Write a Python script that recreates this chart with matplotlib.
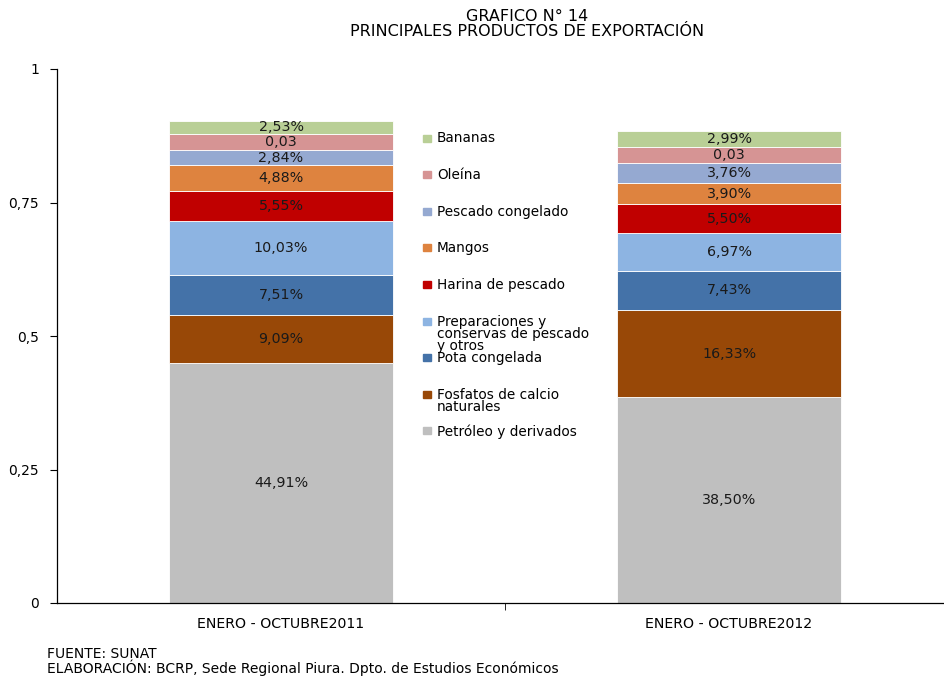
import matplotlib.pyplot as plt
from matplotlib.patches import Rectangle

plt.rcParams["font.family"] = ["DejaVu Sans"]

# ── Data ──────────────────────────────────────────────────────────────────────
periods = ["ENERO - OCTUBRE2011", "ENERO - OCTUBRE2012"]

products = [
    "Petróleo y derivados",
    "Fosfatos de calcio\nnaturales",
    "Pota congelada",
    "Preparaciones y\nconservas de pescado\ny otros",
    "Harina de pescado",
    "Mangos",
    "Pescado congelado",
    "Oleína",
    "Bananas",
]

share_2011 = [0.4491, 0.0909, 0.0751, 0.1003, 0.0555, 0.0488, 0.0284, 0.03, 0.0253]
share_2012 = [0.3850, 0.1633, 0.0743, 0.0697, 0.0550, 0.0390, 0.0376, 0.03, 0.0299]

labels_2011 = ["44,91%", "9,09%", "7,51%", "10,03%", "5,55%", "4,88%", "2,84%", "0,03", "2,53%"]
labels_2012 = ["38,50%", "16,33%", "7,43%", "6,97%", "5,50%", "3,90%", "3,76%", "0,03", "2,99%"]

colours = ["#BFBFBF", "#984807", "#4472A8", "#8DB4E2", "#C00000",
           "#DE833F", "#95A9D1", "#D69494", "#B9CF96"]

yticks = [0, 0.25, 0.5, 0.75, 1]
ytick_labels = ["0", "0,25", "0,5", "0,75", "1"]

# ── Figure ────────────────────────────────────────────────────────────────────
fig = plt.figure(figsize=(9.44, 6.77), dpi=100)
ax = fig.add_axes([57 / 944, 1 - 603 / 677, 896 / 944, (603 - 69) / 677])

series = [share_2011, share_2012]
texts = [labels_2011, labels_2012]
for i in range(len(periods)):
    bottom = 0.0
    for j, val in enumerate(series[i]):
        ax.bar(i, val, width=0.5, bottom=bottom, color=colours[j],
               edgecolor="white", linewidth=0.6)
        ax.text(i, bottom + val / 2, texts[i][j], ha="center", va="center",
                fontsize=10.3, color="#1a1a1a")
        bottom += val

ax.set_xlim(-0.5, 1.5)
ax.set_ylim(0, 1)
ax.set_yticks(yticks)
ax.set_yticklabels(ytick_labels, fontsize=10)
ax.set_xticks(range(len(periods)))
ax.set_xticklabels(periods, fontsize=10.2)
ax.set_xticks([0.5], minor=True)
ax.tick_params(axis="x", which="major", length=0, pad=10)
ax.tick_params(axis="x", which="minor", length=5, direction="out")
ax.tick_params(axis="y", length=5, direction="out", pad=8)
for side in ["top", "right"]:
    ax.spines[side].set_visible(False)
for side in ["left", "bottom"]:
    ax.spines[side].set_linewidth(0.9)

# Legend (Excel-style: marker aligned with the first line of each entry)
leg_y0 = 138
leg_step = 36.6
for k, j in enumerate(reversed(range(len(products)))):
    ypix = leg_y0 + k * leg_step
    yf = 1 - ypix / 677
    fig.patches.append(Rectangle((423 / 944, yf - 3.5 / 677), 7.5 / 944, 7 / 677,
                                 transform=fig.transFigure, color=colours[j]))
    fig.text(437 / 944, yf + 6.5 / 677, products[j], ha="left", va="top",
             fontsize=9.8, linespacing=0.82)

fig.text(0.558, 1 - 24 / 677, "GRAFICO N° 14\nPRINCIPALES PRODUCTOS DE EXPORTACIÓN",
         ha="center", va="center", multialignment="center", fontsize=11.5,
         linespacing=1.08)

fig.text(47 / 944, 1 - 661.5 / 677,
         "FUENTE: SUNAT\nELABORACIÓN: BCRP, Sede Regional Piura. Dpto. de Estudios Económicos",
         ha="left", va="center", fontsize=10, linespacing=0.95)

fig.savefig("out.png", dpi=100)
